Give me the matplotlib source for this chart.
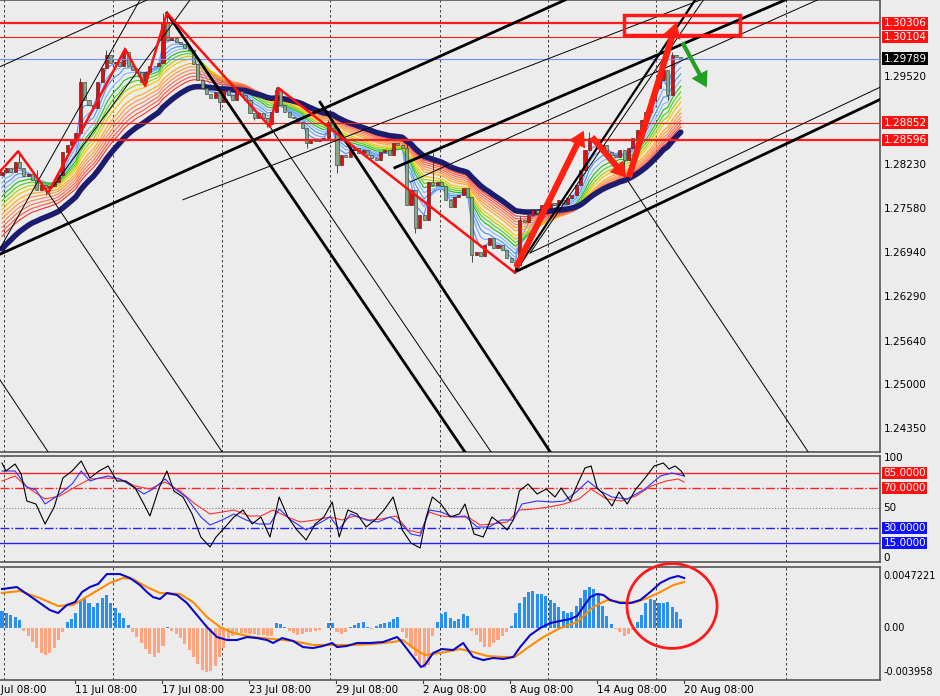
import numpy as np
import matplotlib.pyplot as plt
import matplotlib.transforms as mtransforms
from matplotlib.patches import Rectangle, Ellipse

plt.rcParams['font.family'] = ['DejaVu Sans']

# ---------------- data ----------------
closes = [
    1.2813, 1.2819, 1.2813, 1.2827, 1.2819, 1.2807, 1.2810, 1.2801, 1.2786, 1.2794,
    1.2789, 1.2792, 1.2798, 1.2808, 1.2842, 1.2852, 1.2860, 1.2870, 1.2945, 1.2918,
    1.2911, 1.2907, 1.2945, 1.2965, 1.2984, 1.2973, 1.2974, 1.2968, 1.2989, 1.2968,
    1.2962, 1.2959, 1.2945, 1.2959, 1.2968, 1.2968, 1.2973, 1.3033, 1.3006, 1.3009,
    1.3003, 1.3000, 1.2995, 1.2992, 1.2971, 1.2948, 1.2936, 1.2927, 1.2921, 1.2930,
    1.2915, 1.2933, 1.2926, 1.2918, 1.2932, 1.2926, 1.2918, 1.2899, 1.2892, 1.2899,
    1.2892, 1.2883, 1.2901, 1.2933, 1.2911, 1.2901, 1.2893, 1.2892, 1.2886, 1.2877,
    1.2855, 1.2860, 1.2858, 1.2860, 1.2863, 1.2886, 1.2877, 1.2823, 1.2838, 1.2835,
    1.2845, 1.2848, 1.2841, 1.2845, 1.2838, 1.2833, 1.2830, 1.2842, 1.2845, 1.2838,
    1.2855, 1.2852, 1.2848, 1.2764, 1.2786, 1.2731, 1.2750, 1.2742, 1.2798, 1.2794,
    1.2798, 1.2792, 1.2772, 1.2761, 1.2776, 1.2779, 1.2789, 1.2776, 1.2691, 1.2695,
    1.2689, 1.2706, 1.2716, 1.2701, 1.2706, 1.2698, 1.2687, 1.2681, 1.2676, 1.2742,
    1.2739, 1.2750, 1.2757, 1.2752, 1.2764, 1.2760, 1.2767, 1.2764, 1.2772, 1.2766,
    1.2775, 1.2779, 1.2794, 1.2816, 1.2845, 1.2863, 1.2857, 1.2848, 1.2852, 1.2842,
    1.2838, 1.2835, 1.2845, 1.2830, 1.2848, 1.2863, 1.2874, 1.2889, 1.2901, 1.2918,
    1.2936, 1.2948, 1.2962, 1.2926, 1.2984, 1.2981, 1.2979,
]
first_open = 1.2808
wick_high = {4: 1.2843, 8: 1.2816, 18: 1.2951, 24: 1.2991, 28: 1.2996, 37: 1.3046,
             38: 1.3044, 63: 1.2937, 75: 1.2889, 93: 1.2855, 99: 1.2840, 119: 1.2748,
             135: 1.2871, 152: 1.2968, 154: 1.2989}
wick_low = {10: 1.2779, 50: 1.2904, 58: 1.2889, 61: 1.2879, 70: 1.2848, 77: 1.2811,
            95: 1.2723, 108: 1.2680, 118: 1.2664, 143: 1.2808, 153: 1.2918}

ribbon_periods = [3, 5, 7, 9, 11, 13, 15, 17, 20, 22, 24, 26, 28, 30]
ribbon_colors = ['#5f8dff', '#7aa7ff', '#4a9af0', '#8ab8ff', '#22c022', '#55d022', '#a8d400',
                 '#ffc400', '#ffaa20', '#ff9a40', '#ff8a55', '#ff7050', '#ff5a45', '#ff3a30']
ribbon_seed_top, ribbon_seed_bottom = 1.2795, 1.2712
navy_period = 34
navy_seed = 1.2693

levels_red = [1.30306, 1.30104, 1.28852, 1.28596]
level_current = 1.29789
price_ticks = [1.29520, 1.28230, 1.27580, 1.26940, 1.26290, 1.25640, 1.25000, 1.24350]

# zigzag (bar, price)
zig_bar = [-0.5, 3.7, 10.6, 28.3, 32.9, 37.9, 61.6, 63.5, 117.9]
zig_price = [1.2813, 1.2843, 1.2782, 1.2993, 1.2939, 1.3046, 1.2879, 1.2936, 1.2665]

# trend lines: (bar0, price0, bar1, price1, width)
trend_lines = [
    (-0.5, 1.2692, 129.4, 1.3065, 2.0),
    (90.3, 1.2819, 180.0, 1.3065, 2.0),
    (117.9, 1.2666, 201.8, 1.2919, 2.0),
    (37.9, 1.3046, 106.4, 1.2402, 2.0),
    (73.1, 1.2915, 126.0, 1.2402, 2.0),
    (117.9, 1.2666, 159.3, 1.3065, 1.6),
    (-0.5, 1.2967, 33.3, 1.3065, 0.7),
    (-0.5, 1.2700, 31.7, 1.3065, 0.7),
    (10.6, 1.2782, 43.2, 1.3065, 0.7),
    (41.6, 1.2772, 160.5, 1.3065, 0.7),
    (93.8, 1.2798, 187.4, 1.3065, 0.7),
    (121.4, 1.2694, 201.8, 1.2937, 0.7),
    (121.4, 1.2694, 161.2, 1.3065, 0.7),
    (-0.5, 1.2508, 10.6, 1.2402, 0.7),
    (10.6, 1.2782, 50.6, 1.2402, 0.7),
    (61.6, 1.2879, 112.4, 1.2402, 0.7),
    (143.7, 1.2801, 185.3, 1.2402, 0.7),
]

# oscillator (bar, value)
osc_black_bar = [0, 0.9, 3.0, 4.4, 5.7, 7.8, 9.9, 12.0, 14.0, 16.1, 18.2, 20.2, 22.3, 24.4,
                 26.4, 28.5, 30.6, 32.6, 34.0, 36.1, 37.9, 39.5, 41.6, 43.7, 45.7, 47.8,
                 49.2, 51.3, 53.3, 55.4, 57.5, 59.5, 61.6, 63.7, 65.7, 67.8, 69.9, 72.0,
                 74.0, 75.9, 77.5, 79.5, 81.6, 83.7, 85.7, 87.8, 89.9, 92.0, 94.0, 96.1,
                 97.5, 98.9, 100.9, 103.0, 105.1, 106.4, 108.5, 110.6, 112.6, 114.7, 116.1,
                 117.5, 118.9, 120.9, 123.0, 125.1, 127.1, 128.5, 130.6, 132.6, 134.0,
                 135.4, 136.8, 138.2, 140.2, 141.8, 143.7, 145.7, 147.8, 149.9, 152.0,
                 153.3, 154.7, 156.1, 156.8]
osc_black_val = [95, 87, 94, 84, 57, 54, 34, 51, 80, 87, 97, 80, 87, 92, 77, 77, 70, 54, 42,
                 70, 87, 67, 61, 44, 21, 11, 21, 31, 41, 48, 34, 41, 21, 61, 41, 28, 18, 34,
                 41, 56, 21, 48, 44, 31, 38, 48, 61, 28, 15, 10, 41, 61, 54, 41, 44, 54, 24,
                 21, 41, 34, 28, 38, 67, 74, 64, 69, 61, 70, 57, 77, 90, 92, 70, 64, 52, 66,
                 54, 69, 80, 92, 95, 89, 92, 87, 82]
osc_blue_bar = [0, 3.0, 5.7, 7.8, 9.9, 13.3, 16.1, 18.2, 20.2, 22.3, 24.4, 27.1, 30.6, 32.6,
                34.7, 37.5, 39.5, 42.3, 45.7, 47.8, 50.6, 53.3, 56.1, 58.9, 61.6, 63.7, 66.4,
                69.9, 72.6, 75.4, 77.5, 80.2, 83.7, 86.4, 89.2, 92.0, 94.0, 96.1, 98.2,
                100.9, 103.7, 106.4, 109.2, 112.0, 114.7, 117.5, 119.5, 123.0, 126.4, 129.2,
                132.0, 134.7, 137.5, 140.2, 143.7, 147.8, 151.3, 154.0, 156.8]
osc_blue_val = [87, 87, 71, 68, 54, 64, 74, 87, 77, 80, 82, 79, 70, 64, 69, 79, 70, 61, 41,
                33, 38, 44, 38, 34, 34, 49, 38, 28, 34, 41, 29, 44, 38, 36, 41, 33, 24, 22,
                48, 46, 41, 42, 31, 31, 38, 38, 54, 57, 56, 57, 66, 77, 67, 61, 59, 69, 82,
                85, 82]
osc_red_bar = [0, 3.0, 5.7, 9.9, 13.3, 16.8, 20.2, 23.7, 27.1, 30.6, 34.0, 37.5, 40.9, 44.4,
               47.8, 50.6, 53.3, 56.8, 59.5, 62.3, 65.1, 68.5, 72.0, 75.4, 78.2, 80.9, 84.4,
               87.1, 90.6, 93.3, 96.1, 98.2, 100.9, 104.4, 107.1, 109.9, 112.6, 116.1,
               118.9, 122.3, 125.7, 129.2, 132.6, 135.4, 138.9, 142.3, 145.7, 149.2, 152.6,
               155.4, 156.8]
osc_red_val = [77, 82, 71, 59, 62, 71, 79, 80, 79, 72, 69, 76, 67, 54, 44, 46, 48, 42, 42,
               48, 42, 36, 38, 41, 38, 42, 38, 39, 42, 28, 25, 46, 42, 41, 41, 33, 34, 36, 48,
               49, 51, 54, 59, 69, 59, 57, 62, 72, 77, 79, 76]

# MACD, values in 1e-4
macd_hist = [
    15.4, 13.6, 11.8, 10.0, 7.3,
    -2.7, -7.3, -12.7, -18.2, -22.7, -24.5, -22.7, -18.2, -10.9, -3.6,
    5.4, 8.2, 13.6, 25.4, 27.2, 22.7, 19.1, 22.7, 27.2, 30.0, 22.7, 18.2, 13.6, 9.1, 2.7,
    -3.6, -8.2, -13.6, -19.1, -23.6, -26.3, -22.7, -16.3,
    0.9,
    -2.7, -5.4, -9.1, -14.5, -20.0, -26.3, -32.7, -38.1, -40.0, -39.0, -34.5, -26.3, -18.2, -10.9,
    -7.3, -5.4, -4.5, -4.5, -5.4, -5.4, -6.4, -6.4, -7.3, -7.3,
    4.5, 3.6, 0.9,
    -2.7, -4.5, -6.4, -5.4, -3.6, -3.6, -2.7, -1.8,
    0.0, 4.5, 4.5,
    -3.6, -5.4, -3.6,
    0.9, 2.7, 4.5, 5.4, 0.9, -0.9, 1.8, 3.6, 4.5, 5.4, 8.2, 10.0,
    -3.6, -9.1, -17.3, -25.4, -32.7, -36.3, -33.6, -7.3,
    5.4, 12.7, 14.5, 9.1, 6.4, 8.2, 12.7, 10.9,
    -2.7, -6.4, -12.7, -17.3, -17.3, -13.6, -10.9, -7.3, -3.6,
    1.8,
    13.6, 22.7, 28.1, 32.7, 33.6, 30.9, 30.9, 29.1, 25.4, 22.7, 19.1, 15.4, 13.6, 14.5,
    20.0, 27.2, 34.5, 37.2, 35.4, 30.0, 20.0, 10.9, 3.6,
    -0.9, -3.6, -7.3, -5.4, -1.8,
    5.4, 11.8, 22.7, 26.3, 25.4, 22.7, 22.7, 23.6, 19.1, 14.5, 8.2,
]
macd_bar = [0, 3.4, 7.1, 11.0, 12.9, 14.9, 16.8, 18.4, 20.2, 22.1, 24.1, 27.1, 29.4, 31.7,
            33.3, 34.7, 36.3, 37.9, 40.2, 42.5, 44.8, 47.1, 49.4, 51.7, 54.0, 56.3, 58.6,
            60.9, 62.3, 64.4, 66.9, 69.2, 71.5, 73.8, 75.9, 77.0, 79.3, 81.6, 84.6, 87.6,
            90.8, 91.5, 93.8, 96.3, 97.2, 99.1, 101.1, 103.7, 106.0, 107.6, 108.3, 110.6,
            112.9, 115.2, 117.5, 119.1, 121.4, 123.7, 126.0, 128.3, 130.6, 132.2, 133.6,
            135.2, 136.8, 138.2, 139.8, 142.1, 144.4, 146.7, 149.0, 151.3, 153.6, 155.4, 156.8]
macd_val = [35.4, 37.2, 27.2, 16.3, 13.6, 20.9, 23.6, 32.7, 37.2, 40.0, 49.0, 49.0, 45.4,
            39.0, 32.7, 28.1, 26.3, 31.8, 30.0, 22.7, 11.8, 0.9, -8.2, -10.9, -10.9, -8.2,
            -9.1, -10.9, -13.6, -9.1, -11.8, -17.3, -18.2, -16.3, -13.6, -17.3, -16.3, -13.6,
            -13.6, -12.7, -8.2, -10.9, -22.7, -35.4, -33.6, -22.7, -19.1, -20.0, -13.6, -22.7,
            -26.3, -29.1, -27.2, -28.1, -26.3, -17.3, -6.4, 0.0, 4.5, 6.4, 8.2, 10.9, 19.1,
            28.1, 30.9, 30.0, 25.4, 22.7, 22.7, 25.4, 32.7, 40.9, 45.4, 47.2, 45.4]
signal_bar = [0, 4.1, 8.7, 12.9, 16.3, 20.2, 24.8, 27.8, 30.1, 33.3, 36.3, 40.9, 43.9, 47.1,
              50.1, 53.1, 57.7, 62.3, 66.9, 71.5, 76.1, 80.7, 85.3, 89.9, 92.2, 94.5, 97.2,
              100.7, 105.3, 108.3, 111.5, 115.2, 117.9, 120.7, 124.4, 128.3, 132.2, 135.9,
              139.1, 142.1, 145.1, 148.3, 151.3, 154.3, 156.8]
signal_val = [31.8, 33.6, 27.2, 20.0, 20.9, 30.0, 40.9, 45.4, 44.5, 37.2, 31.8, 30.9, 23.6,
              10.0, 0.9, -4.5, -8.2, -10.0, -11.8, -15.4, -15.4, -15.4, -14.5, -12.7, -10.9,
              -18.2, -24.5, -22.7, -19.1, -21.8, -25.4, -26.3, -26.3, -18.2, -8.2, 0.0, 5.4,
              19.1, 25.4, 23.6, 22.7, 27.2, 32.7, 39.0, 41.8]

date_labels = ['5 Jul 08:00', '11 Jul 08:00', '17 Jul 08:00', '23 Jul 08:00', '29 Jul 08:00',
               '2 Aug 08:00', '8 Aug 08:00', '14 Aug 08:00', '20 Aug 08:00']
date_bars = [-2.6, 16.8, 36.8, 56.8, 76.8, 96.8, 116.8, 136.8, 156.8]
grid_bars = [0.5, 25.5, 50.6, 75.4, 100.7, 125.5, 150.3, 180.2]


def ema(values, period, seed):
    k = 2.0 / (period + 1)
    out = []
    prev = seed
    for v in values:
        prev = prev + k * (v - prev)
        out.append(prev)
    return np.array(out)


def right_label(a, y, text, fc=None, size=7.5):
    t = mtransforms.blended_transform_factory(a.transAxes, a.transData)
    box = None
    color = 'black'
    if fc is not None:
        box = dict(boxstyle='square,pad=0.12', fc=fc, ec='none')
        color = 'white'
    a.text(1.004, y, text, transform=t, fontsize=size, color=color, va='center', ha='left',
           bbox=box, clip_on=False)


# ---------------- figure ----------------
BG = '#ececec'
fig = plt.figure(figsize=(9.4, 6.96), dpi=100, facecolor=BG)
W, H = 940.0, 696.0
ax = fig.add_axes([0, (H - 452) / H, 880 / W, 452 / H], facecolor=BG)
ax_osc = fig.add_axes([0, (H - 562) / H, 880 / W, 106 / H], facecolor=BG)
ax_m = fig.add_axes([0, (H - 680) / H, 880 / W, 113 / H], facecolor=BG)

xmin, xmax = -0.46, 201.8
for a in (ax, ax_osc, ax_m):
    a.set_xlim(xmin, xmax)
    for s in a.spines.values():
        s.set_color('#555555')
        s.set_linewidth(1.2)
    a.spines['left'].set_visible(False)
    a.set_xticks([])
    a.set_yticks([])
    for gb in grid_bars:
        a.axvline(gb, color='#202020', lw=0.6, ls=(0, (3, 3)), zorder=1)

# ---- main price panel ----
n = len(closes)
bars = np.arange(n)
closes_a = np.array(closes)
opens = np.array([first_open] + closes[:-1])
highs = np.maximum(opens, closes_a)
lows = np.minimum(opens, closes_a)
for i, v in wick_high.items():
    highs[i] = v
for i, v in wick_low.items():
    lows[i] = v

for j, (p, c) in enumerate(zip(ribbon_periods, ribbon_colors)):
    seed = ribbon_seed_top - (ribbon_seed_top - ribbon_seed_bottom) * j / (len(ribbon_periods) - 1)
    ax.plot(bars, ema(closes, p, seed), color=c, lw=0.85, zorder=2)
ax.plot(bars, ema(closes, navy_period, navy_seed), color='#1c1c6e', lw=4.0, zorder=3,
        solid_capstyle='round')

up = closes_a >= opens
ax.vlines(bars, lows, highs, color='#303030', lw=0.6, zorder=4)
ax.bar(bars[up], closes_a[up] - opens[up], bottom=opens[up], width=0.7,
       color='#d81010', edgecolor='#3a1a1a', lw=0.4, zorder=5)
ax.bar(bars[~up], closes_a[~up] - opens[~up], bottom=opens[~up], width=0.7,
       color='#86a886', edgecolor='#2a3a2a', lw=0.4, zorder=5)

for lv, lw in zip(levels_red, [1.6, 0.8, 0.8, 1.6]):
    ax.axhline(lv, color='#ff1a1a', lw=lw, zorder=6)
ax.axhline(level_current, color='#6f8fff', lw=0.8, zorder=6)

for b0, p0, b1, p1, lw in trend_lines:
    ax.plot([b0, b1], [p0, p1], color='black', lw=lw, zorder=7)

ax.plot(zig_bar, zig_price, color='#ff1010', lw=1.8, zorder=8)

arrow_kw = dict(arrowstyle='simple,head_width=1.3,head_length=1.1,tail_width=0.45',
                color='#ff2010', lw=0)
ax.annotate('', xy=(134.0, 1.2877), xytext=(117.9, 1.2669), arrowprops=arrow_kw, zorder=9)
ax.annotate('', xy=(143.9, 1.2801), xytext=(135.2, 1.2867), arrowprops=arrow_kw, zorder=9)
ax.annotate('', xy=(155.2, 1.3036), xytext=(143.9, 1.2801), arrowprops=arrow_kw, zorder=9)
ax.annotate('', xy=(162.3, 1.2933), xytext=(156.1, 1.3006),
            arrowprops=dict(arrowstyle='simple,head_width=1.3,head_length=1.1,tail_width=0.3',
                            color='#22a022', lw=0), zorder=9)
ax.add_patch(Rectangle((143.0, 1.3014), 26.7, 0.0029, fill=False, ec='#ff1a1a', lw=2.5, zorder=9))

ax.set_ylim(1.24019, 1.30650)
for t in price_ticks:
    right_label(ax, t, '%.5f' % t)
for lv in levels_red:
    right_label(ax, lv, '%.5f' % lv, fc='#ff1010')
right_label(ax, level_current, '%.5f' % level_current, fc='black')

# ---- oscillator ----
ax_osc.plot(osc_red_bar, osc_red_val, color='#ff3030', lw=0.8, zorder=3)
ax_osc.plot(osc_blue_bar, osc_blue_val, color='#3030ff', lw=0.8, zorder=4)
ax_osc.plot(osc_black_bar, osc_black_val, color='black', lw=0.8, zorder=5)
ax_osc.axhline(85, color='#ff2020', lw=1.0, zorder=2)
ax_osc.axhline(70, color='#ff2020', lw=1.0, ls='-.', zorder=2)
ax_osc.axhline(50, color='#808080', lw=0.8, ls=':', zorder=2)
ax_osc.axhline(30, color='#2020ff', lw=1.0, ls='-.', zorder=2)
ax_osc.axhline(15, color='#2020ff', lw=1.0, zorder=2)
ax_osc.set_ylim(-4, 102)
for v in (100, 50, 0):
    right_label(ax_osc, v, str(v))
for lv, fc in zip([85, 70, 30, 15], ['#ff1010', '#ff1010', '#1010ff', '#1010ff']):
    right_label(ax_osc, lv, '%.4f' % lv, fc=fc)

# ---- MACD ----
hist = np.array(macd_hist) * 1e-4
hb = np.arange(len(hist))
ax_m.bar(hb[hist >= 0], hist[hist >= 0], width=0.7, color='#2b8ff0', lw=0, zorder=2)
ax_m.bar(hb[hist < 0], hist[hist < 0], width=0.7, color='#ffa47f', lw=0, zorder=2)
ax_m.plot(signal_bar, np.array(signal_val) * 1e-4, color='#ff8c00', lw=1.5, zorder=3)
ax_m.plot(macd_bar, np.array(macd_val) * 1e-4, color='#0a0ac8', lw=1.5, zorder=4)
ax_m.set_ylim(-47.2e-4, 55.4e-4)
for v, s in [(47.221e-4, '0.0047221'), (0, '0.00'), (-39.58e-4, '-0.003958')]:
    right_label(ax_m, v, s, size=7.0)
ax_m.add_patch(Ellipse((154.0, 20e-4), 20.7, 77e-4, fill=False, ec='#ff1a1a', lw=2.0,
                       clip_on=False, zorder=6))

tx = mtransforms.blended_transform_factory(ax_m.transData, ax_m.transAxes)
for b, s in zip(date_bars, date_labels):
    ax_m.text(b, -0.045, s, transform=tx, fontsize=7.5, ha='left', va='top', clip_on=False)
    ax_m.plot([b, b], [0, -0.025], transform=tx, color='#404040', lw=0.8, clip_on=False)

fig.savefig('out.png', dpi=100, facecolor=BG)
